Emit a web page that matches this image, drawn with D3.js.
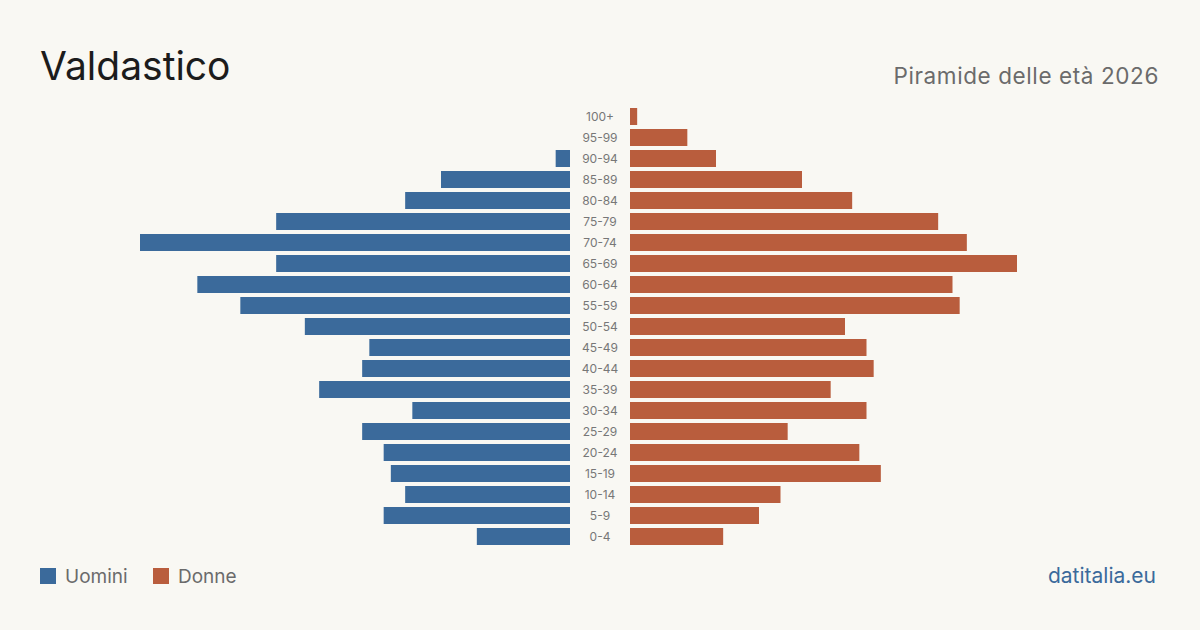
<!DOCTYPE html>
<html>
<head>
<meta charset="utf-8">
<script src="https://cdn.jsdelivr.net/npm/d3@7"></script>
<style>
  html, body { margin: 0; padding: 0; background: #f9f8f3; }
  svg { display: block; font-family: Inter, "Noto Sans", sans-serif; }
</style>
</head>
<body>
<div id="chart-area"></div>
<script>
const WIDTH = 1200,
    HEIGHT = 630,
    CENTER = 600,
    GAP = 30,            // half of the gap holding the age labels
    HALF_WIDTH = 430,    // length of the longest bar
    ROW_TOP = 108,
    ROW_STEP = 21,
    BAR_H = 17,
    COLOR_MEN = '#3b6a9b',
    COLOR_WOMEN = '#b95d3d',
    COLOR_BG = '#f9f8f3';

// age classes, from the oldest down
const ages = ['100+', '95-99', '90-94', '85-89', '80-84', '75-79', '70-74', '65-69',
    '60-64', '55-59', '50-54', '45-49', '40-44', '35-39', '30-34', '25-29',
    '20-24', '15-19', '10-14', '5-9', '0-4'];
const men = [0, 0, 2, 18, 23, 41, 60, 41, 52, 46, 37, 28, 29, 35, 22, 29, 26, 25, 23, 26, 13];
const women = [1, 8, 12, 24, 31, 43, 47, 54, 45, 46, 30, 33, 34, 28, 33, 22, 32, 35, 21, 18, 13];

const svg = d3.select("#chart-area")
    .append("svg")
    .attr("width", WIDTH)
    .attr("height", HEIGHT);

svg.append("rect")
    .attr("width", WIDTH)
    .attr("height", HEIGHT)
    .attr("fill", COLOR_BG);

const maxVal = d3.max(men.concat(women));

const x = d3.scaleLinear()
    .domain([0, maxVal])
    .range([0, HALF_WIDTH]);

const y = d3.scaleBand()
    .domain(ages)
    .range([ROW_TOP, ROW_TOP + ROW_STEP * (ages.length - 1) + BAR_H])
    .paddingInner((ROW_STEP - BAR_H) / ROW_STEP)
    .paddingOuter(0);

const rows = ages.map((a, i) => ({ age: a, m: men[i], f: women[i] }));

// men on the left
svg.append("g")
    .selectAll("rect")
    .data(rows.filter(d => d.m > 0))
    .join("rect")
    .attr("x", d => CENTER - GAP - x(d.m))
    .attr("y", d => y(d.age))
    .attr("width", d => x(d.m))
    .attr("height", y.bandwidth())
    .attr("fill", COLOR_MEN);

// women on the right
svg.append("g")
    .selectAll("rect")
    .data(rows.filter(d => d.f > 0))
    .join("rect")
    .attr("x", CENTER + GAP)
    .attr("y", d => y(d.age))
    .attr("width", d => x(d.f))
    .attr("height", y.bandwidth())
    .attr("fill", COLOR_WOMEN);

// age labels in the middle
svg.append("g")
    .selectAll("text")
    .data(ages)
    .join("text")
    .attr("x", CENTER)
    .attr("y", d => y(d) + y.bandwidth() / 2)
    .attr("dy", "0.35em")
    .attr("text-anchor", "middle")
    .attr("font-size", 12)
    .attr("fill", "#777")
    .text(d => d);

// title and subtitle
svg.append("text")
    .attr("x", 40)
    .attr("y", 80)
    .attr("font-size", 39)
    .attr("fill", "#1c1c1c")
    .text("Valdastico");

svg.append("text")
    .attr("x", 1159)
    .attr("y", 84)
    .attr("text-anchor", "end")
    .attr("font-size", 22.5)
    .attr("letter-spacing", 0.6)
    .attr("fill", "#6b6b6b")
    .text("Piramide delle età 2026");

// legend
const legend = svg.append("g")
    .selectAll("g")
    .data([{ label: "Uomini", color: COLOR_MEN, x: 40 }, { label: "Donne", color: COLOR_WOMEN, x: 153 }])
    .join("g")
    .attr("transform", d => `translate(${d.x},568)`);

legend.append("rect")
    .attr("width", 16)
    .attr("height", 16)
    .attr("fill", d => d.color);

legend.append("text")
    .attr("x", 25)
    .attr("y", 15)
    .attr("font-size", 19)
    .attr("fill", "#6b6b6b")
    .text(d => d.label);

svg.append("text")
    .attr("x", 1156)
    .attr("y", 583)
    .attr("text-anchor", "end")
    .attr("font-size", 21)
    .attr("fill", "#3b6a9b")
    .text("datitalia.eu");
</script>
</body>
</html>
